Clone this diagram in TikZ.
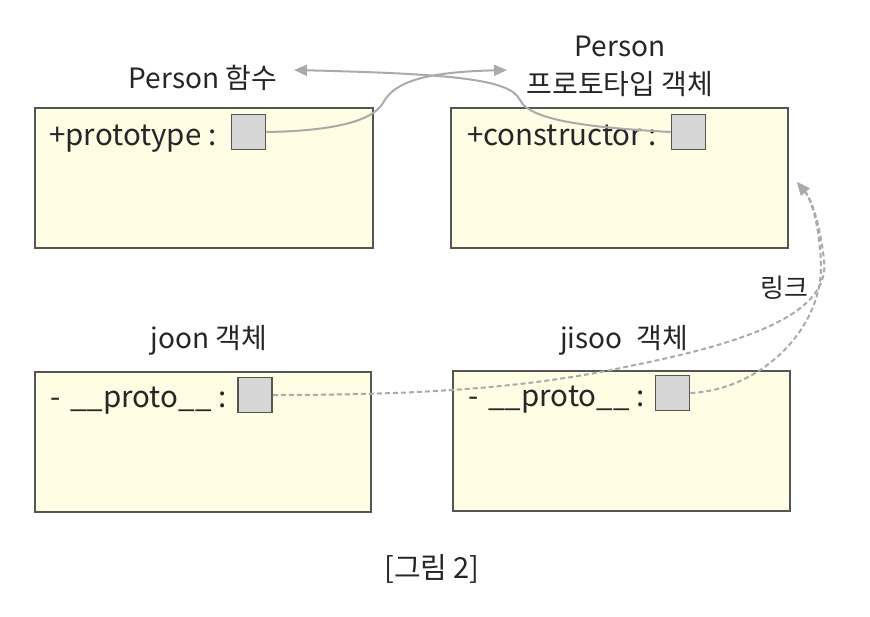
\documentclass[tikz,border=0pt]{standalone}
\usepackage{fontspec}
\setmainfont{Noto Sans CJK KR}
\usetikzlibrary{arrows.meta}
\definecolor{boxfill}{RGB}{255,253,228}
\definecolor{boxline}{RGB}{85,85,85}
\definecolor{sqfill}{RGB}{214,214,214}
\definecolor{linkgray}{RGB}{170,170,170}
\begin{document}
\begin{tikzpicture}[x=1pt,y=-1pt,
  objbox/.style={draw=boxline,fill=boxfill,line width=2pt,minimum width=#1,minimum height=140pt,inner sep=0pt},
  slot/.style={draw=boxline,fill=sqfill,line width=1.8pt,minimum width=34pt,minimum height=35pt,inner sep=0pt},
  lbl/.style={font=\fontsize{28}{38}\selectfont,inner sep=0pt,text=black!85},
  attr/.style={font=\fontsize{29.5}{34}\selectfont,inner sep=0pt,anchor=base west,text=black!85},
  conn/.style={draw=linkgray,line width=2pt,-{Triangle[length=13pt,width=11pt]}},
  dconn/.style={conn,dash pattern=on 5pt off 3pt}]
\useasboundingbox (0,0) rectangle (870,616);
% boxes
\node[objbox=338pt] (b1) at (204,178) {};
\node[objbox=337pt] (b2) at (619.5,178) {};
\node[objbox=336pt] (b3) at (203,442) {};
\node[objbox=337pt] (b4) at (621.5,441) {};
% attribute texts
\node[attr] (t1) at (49,145) {+prototype :};
\node[attr] (t2) at (467,145) {+constructor :};
\node[attr] (t3) at (50,407) {-\,\,\_\_proto\_\_ :};
\node[attr] (t4) at (468,406) {-\,\,\_\_proto\_\_ :};
% slots
\node[slot] (s1) at (248.5,132) {};
\node[slot] (s2) at (688.5,132) {};
\node[slot] (s3) at (255,395) {};
\node[slot] (s4) at (672.5,393) {};
% labels
\node[lbl] (l1) at (203,78) {Person 함수};
\node[lbl,align=center] (l2) at (620,66) {Person\\프로토타입 객체};
\node[lbl] (l3) at (209,340) {joon 객체};
\node[lbl] (l4) at (624,340) {jisoo\hspace{0.5em}객체};
\node[lbl,font=\fontsize{26}{30}\selectfont] (l5) at (784,288) {링크};
\node[lbl,font=\fontsize{29}{34}\selectfont] (cap) at (432,569) {[그림 2]};
% arrow tips
\coordinate (tipA) at (507,70);
\coordinate (tipB) at (294,70);
\coordinate (tipC) at (797,182);
% connectors
\draw[conn] (s1.east) .. controls (330,131) and (372,122) .. (383,103)
  .. controls (395,80) and (430,72) .. (tipA);
\draw[conn] (s2.west) .. controls (600,128) and (530,122) .. (520,100)
  .. controls (510,80) and (460,74) .. (tipB);
\draw[dconn] (s3.east) .. controls (420,395) and (530,388) .. (630,366)
  .. controls (760,340) and (830,310) .. (824,260)
  .. controls (820,225) and (812,200) .. (tipC);
\draw[dconn] (s4.east) .. controls (760,390) and (822,330) .. (821,265)
  .. controls (820,230) and (812,200) .. (tipC);
\end{tikzpicture}
\end{document}
